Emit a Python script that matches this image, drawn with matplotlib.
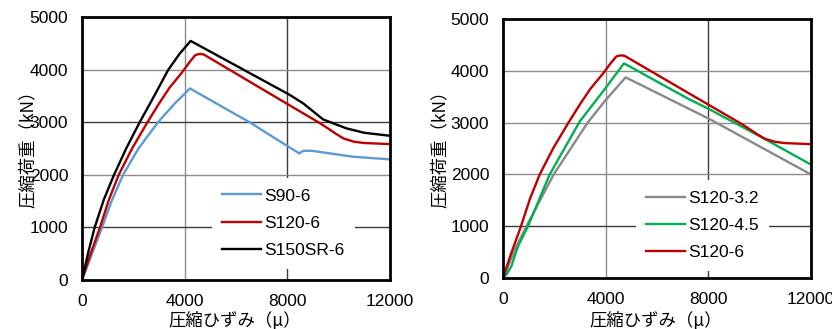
import matplotlib
matplotlib.use("Agg")
import matplotlib.pyplot as plt

# ---- data: compressive strain (micro) vs compressive load (kN) ----
s90_6_x = [0, 780, 1150, 1600, 2200, 2961, 3600, 4207, 6610, 7324, 8467, 8623, 8948, 10570, 12000]
s90_6_y = [0, 1000, 1500, 2000, 2500, 3000, 3350, 3643, 2978, 2756, 2408, 2458, 2458, 2344, 2294]

s120_6_x = [0, 300, 700, 1050, 1430, 1950, 2550, 3000, 3400, 3900, 4200, 4420, 4600, 4740, 8100, 9300, 9900, 10200, 10600, 11000, 12000]
s120_6_y = [0, 450, 1000, 1530, 2000, 2500, 3000, 3355, 3650, 3950, 4150, 4280, 4300, 4290, 3320, 2975, 2780, 2690, 2630, 2605, 2585]

s150sr_6_x = [0, 250, 493, 850, 1247, 1720, 2247, 2700, 3040, 3363, 3800, 4234, 8100, 8623, 9400, 10312, 11000, 12000]
s150sr_6_y = [0, 540, 1000, 1530, 2000, 2500, 3000, 3400, 3706, 4000, 4300, 4547, 3520, 3358, 3053, 2883, 2800, 2743]

s120_32_x = [0, 195, 522, 911, 1975, 3300, 4000, 4780, 8052, 12000]
s120_32_y = [0, 230, 613, 1000, 2000, 3000, 3436, 3875, 3069, 2000]

s120_45_x = [0, 150, 327, 584, 974, 1819, 3000, 4000, 4714, 7273, 8052, 10261, 12000]
s120_45_y = [0, 80, 230, 613, 1000, 2000, 3030, 3670, 4145, 3447, 3257, 2669, 2191]

x_ticks = [0, 4000, 8000, 12000]
y_ticks = [0, 1000, 2000, 3000, 4000, 5000]

left_series = [
    ("S90-6", s90_6_x, s90_6_y, "#5b9bd5"),
    ("S120-6", s120_6_x, s120_6_y, "#c00000"),
    ("S150SR-6", s150sr_6_x, s150sr_6_y, "#000000"),
]
right_series = [
    ("S120-3.2", s120_32_x, s120_32_y, "#898989"),
    ("S120-4.5", s120_45_x, s120_45_y, "#00b050"),
    ("S120-6", s120_6_x, s120_6_y, "#c00000"),
]

TICK_FONT = "Liberation Sans"
JP_FONT = ["Noto Sans CJK JP", "DejaVu Sans"]
LIGHT = "#8c8c8c"
DARK = "#3a3a3a"

fig = plt.figure(figsize=(8.32, 3.29), dpi=100)
ax_l = fig.add_axes([0.0986, 0.149, 0.370, 0.799])
ax_r = fig.add_axes([0.6046, 0.155, 0.370, 0.787])


def style_axes(ax, series, grid_x_colors, grid_y_colors, legend_anchor, ylab_x, xlab_y):
    for label, xs, ys, color in series:
        ax.plot(xs, ys, color=color, lw=1.7, label=label, solid_joinstyle="round")
    ax.set_xlim(0, 12000)
    ax.set_ylim(0, 5000)
    ax.set_xticks(x_ticks)
    ax.set_yticks(y_ticks)
    ax.tick_params(length=0, pad=10, labelsize=12.5)
    for t in ax.get_xticklabels() + ax.get_yticklabels():
        t.set_fontfamily(TICK_FONT)
    # grid lines drawn individually so each can have its own tone
    for v, c in zip(x_ticks[1:-1], grid_x_colors):
        ax.axvline(v, color=c, lw=1.0, zorder=0.5)
    for v, c in zip(y_ticks[1:-1], grid_y_colors):
        ax.axhline(v, color=c, lw=1.0, zorder=0.5)
    for sp in ax.spines.values():
        sp.set_linewidth(2.0)
        sp.set_color("black")
        sp.set_zorder(5)
    ax.set_xlabel("圧縮ひずみ（μ）", fontsize=12.5, family=JP_FONT)
    ax.set_ylabel("圧縮荷重（kN）", fontsize=12.5, family=JP_FONT)
    ax.xaxis.set_label_coords(0.497, xlab_y)
    ax.yaxis.set_label_coords(ylab_x, 0.515)
    leg = ax.legend(loc="upper left", bbox_to_anchor=legend_anchor, frameon=True,
                    fancybox=False, edgecolor="none", facecolor="white", framealpha=1,
                    prop={"family": TICK_FONT, "size": 12.5}, handlelength=2.2,
                    handletextpad=0.2, labelspacing=0.7, borderpad=0.6,
                    borderaxespad=0)
    leg.set_zorder(4)


style_axes(ax_l, left_series, [LIGHT, DARK], [DARK, LIGHT, DARK, LIGHT],
           (0.422, 0.388), -0.146, -0.118)
style_axes(ax_r, right_series, [LIGHT, DARK], [DARK, LIGHT, LIGHT, LIGHT],
           (0.432, 0.378), -0.175, -0.127)

fig.savefig("out.png", dpi=100)
